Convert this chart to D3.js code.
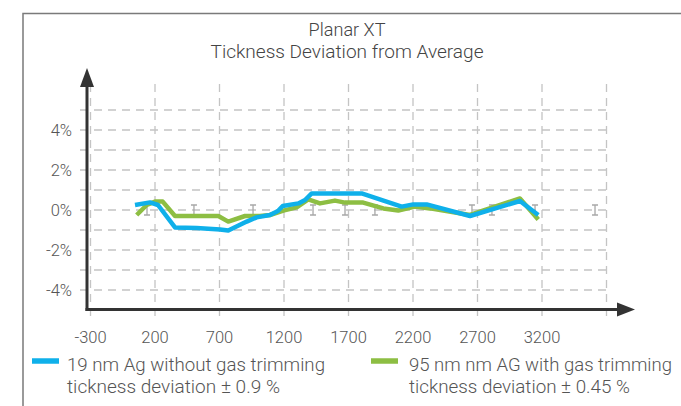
<!DOCTYPE html>
<html>
<head>
<meta charset="utf-8">
<script src="https://cdn.jsdelivr.net/npm/d3@7/dist/d3.min.js"></script>
<style>
  html, body { margin: 0; padding: 0; background: #fff; }
  svg { display: block; }
  text { font-family: Roboto, "Open Sans", sans-serif; font-weight: 300; fill: #555; }
</style>
</head>
<body>
<script>
// ---- data ----
const titleLines = ["Planar XT", "Tickness Deviation from Average"];
const xTicks = [-300, 200, 700, 1200, 1700, 2200, 2700, 3200];
const xGrid = [-300, 200, 700, 1200, 1700, 2200, 2700, 3200, 3700];
const yTicks = [4, 2, 0, -2, -4];
const yGrid = [-4, -3, -2, -1, 0, 1, 2, 3, 4, 5];

const blueX = [45, 161, 223, 355, 523, 704, 768, 911, 988, 1091, 1153, 1190, 1311, 1363, 1415, 1802, 2112, 2202, 2306, 2642, 3029, 3171];
const blueY = [0.25, 0.38, 0.25, -0.87, -0.9, -0.97, -1.03, -0.58, -0.37, -0.25, -0.05, 0.2, 0.33, 0.5, 0.83, 0.83, 0.17, 0.28, 0.28, -0.3, 0.45, -0.25];

const greenX = [58, 136, 200, 260, 355, 691, 768, 898, 1014, 1091, 1195, 1298, 1388, 1479, 1595, 1673, 1814, 1970, 2086, 2215, 2331, 2642, 3029, 3171];
const greenY = [-0.25, 0.25, 0.42, 0.42, -0.3, -0.3, -0.58, -0.3, -0.3, -0.25, -0.03, 0.13, 0.53, 0.33, 0.47, 0.37, 0.37, 0.08, -0.03, 0.17, 0.08, -0.25, 0.58, -0.47];

const errorBarX = [138, 502, 960, 1425, 1673, 1905, 2657, 2812, 3146, 3611];

const legendLabels = [
  ["19 nm Ag without gas trimming", "tickness deviation \u00b1 0.9 %"],
  ["95 nm nm AG with gas trimming", "tickness deviation \u00b1 0.45 %"]
];
const seriesColors = ["#0fb0ea", "#8dbe43"];

// ---- chart ----
const W = 681, H = 406;
const svg = d3.select("body").append("svg").attr("width", W).attr("height", H);

// frame
svg.append("path").attr("d", "M23,406 V13.5 H681").attr("fill", "none")
  .attr("stroke", "#7a7a7a").attr("stroke-width", 1.5);

const x = d3.scaleLinear().domain([-300, 3700]).range([90.5, 606.5]);
const y = d3.scaleLinear().domain([-5, 5]).range([310, 110]);

// title (widths matched to the reference's condensed face)
const titleW = [77, 273];
svg.selectAll("text.title").data(titleLines).enter().append("text")
  .attr("class", "title").attr("x", 347).attr("y", (d, i) => 36 + i * 22)
  .attr("text-anchor", "middle").style("font-size", "17.5px").style("fill", "#444")
  .attr("textLength", (d, i) => titleW[i]).attr("lengthAdjust", "spacingAndGlyphs")
  .text(d => d);

// grid
const grid = svg.append("g").attr("stroke", "#c4c4c4").attr("stroke-width", 1.3)
  .attr("stroke-dasharray", "8,6");
grid.selectAll("line.h").data(yGrid).enter().append("line")
  .attr("x1", 80).attr("x2", x(3700)).attr("y1", d => y(d)).attr("y2", d => y(d));
grid.selectAll("line.v").data(xGrid).enter().append("line")
  .attr("x1", d => x(d)).attr("x2", d => x(d)).attr("y1", 84).attr("y2", 318);

// error bars ("I" marks) on 0 line
const eb = svg.append("g").attr("stroke", "#a8a8a8").attr("stroke-width", 1.3).attr("fill", "none");
eb.selectAll("path").data(errorBarX).enter().append("path")
  .attr("d", d => {
    const cx = x(d), cy = y(0);
    return `M${cx - 3},${cy - 5} H${cx + 3} M${cx},${cy - 5} V${cy + 5} M${cx - 3},${cy + 5} H${cx + 3}`;
  });

// series
const line = d3.line().x(d => x(d[0])).y(d => y(d[1]));
const greenData = greenX.map((v, i) => [v, greenY[i]]);
const blueData = blueX.map((v, i) => [v, blueY[i]]);
svg.append("path").datum(greenData).attr("d", line).attr("fill", "none")
  .attr("stroke", seriesColors[1]).attr("stroke-width", 4.5).attr("stroke-linejoin", "round");
svg.append("path").datum(blueData).attr("d", line).attr("fill", "none")
  .attr("stroke", seriesColors[0]).attr("stroke-width", 4.5).attr("stroke-linejoin", "round");

// axes
const axisColor = "#333";
svg.append("line").attr("x1", 87).attr("x2", 87).attr("y1", 311).attr("y2", 84)
  .attr("stroke", axisColor).attr("stroke-width", 3);
svg.append("path").attr("d", "M87,68 L94,87 L80,87 Z").attr("fill", axisColor);
svg.append("line").attr("x1", 85.5).attr("x2", 618).attr("y1", 309.5).attr("y2", 309.5)
  .attr("stroke", axisColor).attr("stroke-width", 3);
svg.append("path").attr("d", "M635,309.5 L617,302.5 L617,316.5 Z").attr("fill", axisColor);

// tick labels
svg.selectAll("text.xt").data(xTicks).enter().append("text")
  .attr("class", "xt").attr("x", d => x(d)).attr("y", 343)
  .attr("text-anchor", "middle").style("font-size", "16.5px").text(d => d);
svg.selectAll("text.yt").data(yTicks).enter().append("text")
  .attr("class", "yt").attr("x", 72).attr("y", d => y(d) + 6)
  .attr("text-anchor", "end").style("font-size", "16.5px").text(d => d + "%");

// legend
const legX = [32, 371];
const legText = [67, 409];
const legW = [[258, 213], [263, 221]];
legendLabels.forEach((lines, i) => {
  svg.append("line").attr("x1", legX[i]).attr("x2", legX[i] + 27).attr("y1", 361).attr("y2", 361)
    .attr("stroke", seriesColors[i]).attr("stroke-width", 5.5);
  lines.forEach((t, j) => {
    svg.append("text").attr("x", legText[i]).attr("y", 371 + j * 22)
      .style("font-size", "17.5px")
      .attr("textLength", legW[i][j]).attr("lengthAdjust", "spacingAndGlyphs")
      .text(t);
  });
});
</script>
</body>
</html>
